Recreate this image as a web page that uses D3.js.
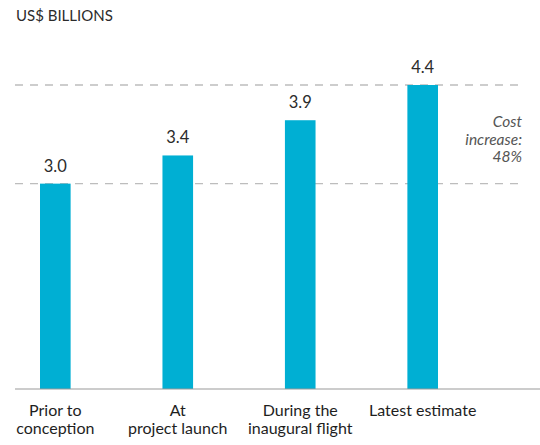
<!DOCTYPE html>
<html>
<head>
<meta charset="utf-8">
<script src="https://cdn.jsdelivr.net/npm/d3@7"></script>
<style>
  body { margin: 0; background: #fff; }
  svg { font-family: Lato, "Open Sans", sans-serif; }
</style>
</head>
<body>
<svg id="chart" width="540" height="445"></svg>
<script>
(function () {
  const categories = [['Prior to', 'conception'], ['At', 'project launch'], ['During the', 'inaugural flight'], ['Latest estimate']]
  const values = [3.0, 3.4, 3.9, 4.4]
  const refLines = [3.0, 4.4]
  const note = ['Cost', 'increase:', '48%']

  const svg = d3.select('#chart')
  const baseY = 389

  const x = d3.scaleBand()
    .domain(d3.range(values.length))
    .range([40, 438])
    .paddingInner(0.75)
    .paddingOuter(0)

  const y = d3.scaleLinear()
    .domain([0, 4.4])
    .range([395, 85])

  svg.append('text')
    .attr('x', 16).attr('y', 21)
    .attr('font-size', 15)
    .attr('fill', '#2b2b2b')
    .text('US$ BILLIONS')

  svg.selectAll('line.ref')
    .data(refLines)
    .enter().append('line')
    .attr('class', 'ref')
    .attr('x1', 15).attr('x2', 522)
    .attr('y1', d => y(d)).attr('y2', d => y(d))
    .attr('stroke', '#bdbdbd')
    .attr('stroke-width', 1.3)
    .attr('stroke-dasharray', '8,7')

  svg.selectAll('rect.bar')
    .data(values)
    .enter().append('rect')
    .attr('class', 'bar')
    .attr('x', (d, i) => x(i))
    .attr('width', x.bandwidth())
    .attr('y', d => y(d))
    .attr('height', d => baseY - y(d))
    .attr('fill', '#00afd3')

  svg.selectAll('text.val')
    .data(values)
    .enter().append('text')
    .attr('class', 'val')
    .attr('x', (d, i) => x(i) + x.bandwidth() / 2)
    .attr('y', d => y(d) - 12)
    .attr('text-anchor', 'middle')
    .attr('font-size', 16.5)
    .attr('fill', '#2b2b2b')
    .text(d => d.toFixed(1))

  svg.append('line')
    .attr('x1', 15).attr('x2', 540)
    .attr('y1', baseY).attr('y2', baseY)
    .attr('stroke', '#999')
    .attr('stroke-width', 1)

  const cat = svg.selectAll('text.cat')
    .data(categories)
    .enter().append('text')
    .attr('class', 'cat')
    .attr('x', (d, i) => x(i) + x.bandwidth() / 2)
    .attr('y', 416)
    .attr('text-anchor', 'middle')
    .attr('font-size', 16)
    .attr('fill', '#1e1e1e')
  cat.selectAll('tspan')
    .data(d => d)
    .enter().append('tspan')
    .attr('x', function () { return d3.select(this.parentNode).attr('x') })
    .attr('dy', (d, i) => i === 0 ? 0 : 18)
    .text(d => d)

  svg.append('text')
    .attr('y', 127)
    .attr('text-anchor', 'end')
    .attr('font-size', 15.5)
    .attr('font-style', 'italic')
    .attr('fill', '#555')
    .selectAll('tspan')
    .data(note)
    .enter().append('tspan')
    .attr('x', 522)
    .attr('dy', (d, i) => i === 0 ? 0 : 17.5)
    .text(d => d)
})()
</script>
</body>
</html>
